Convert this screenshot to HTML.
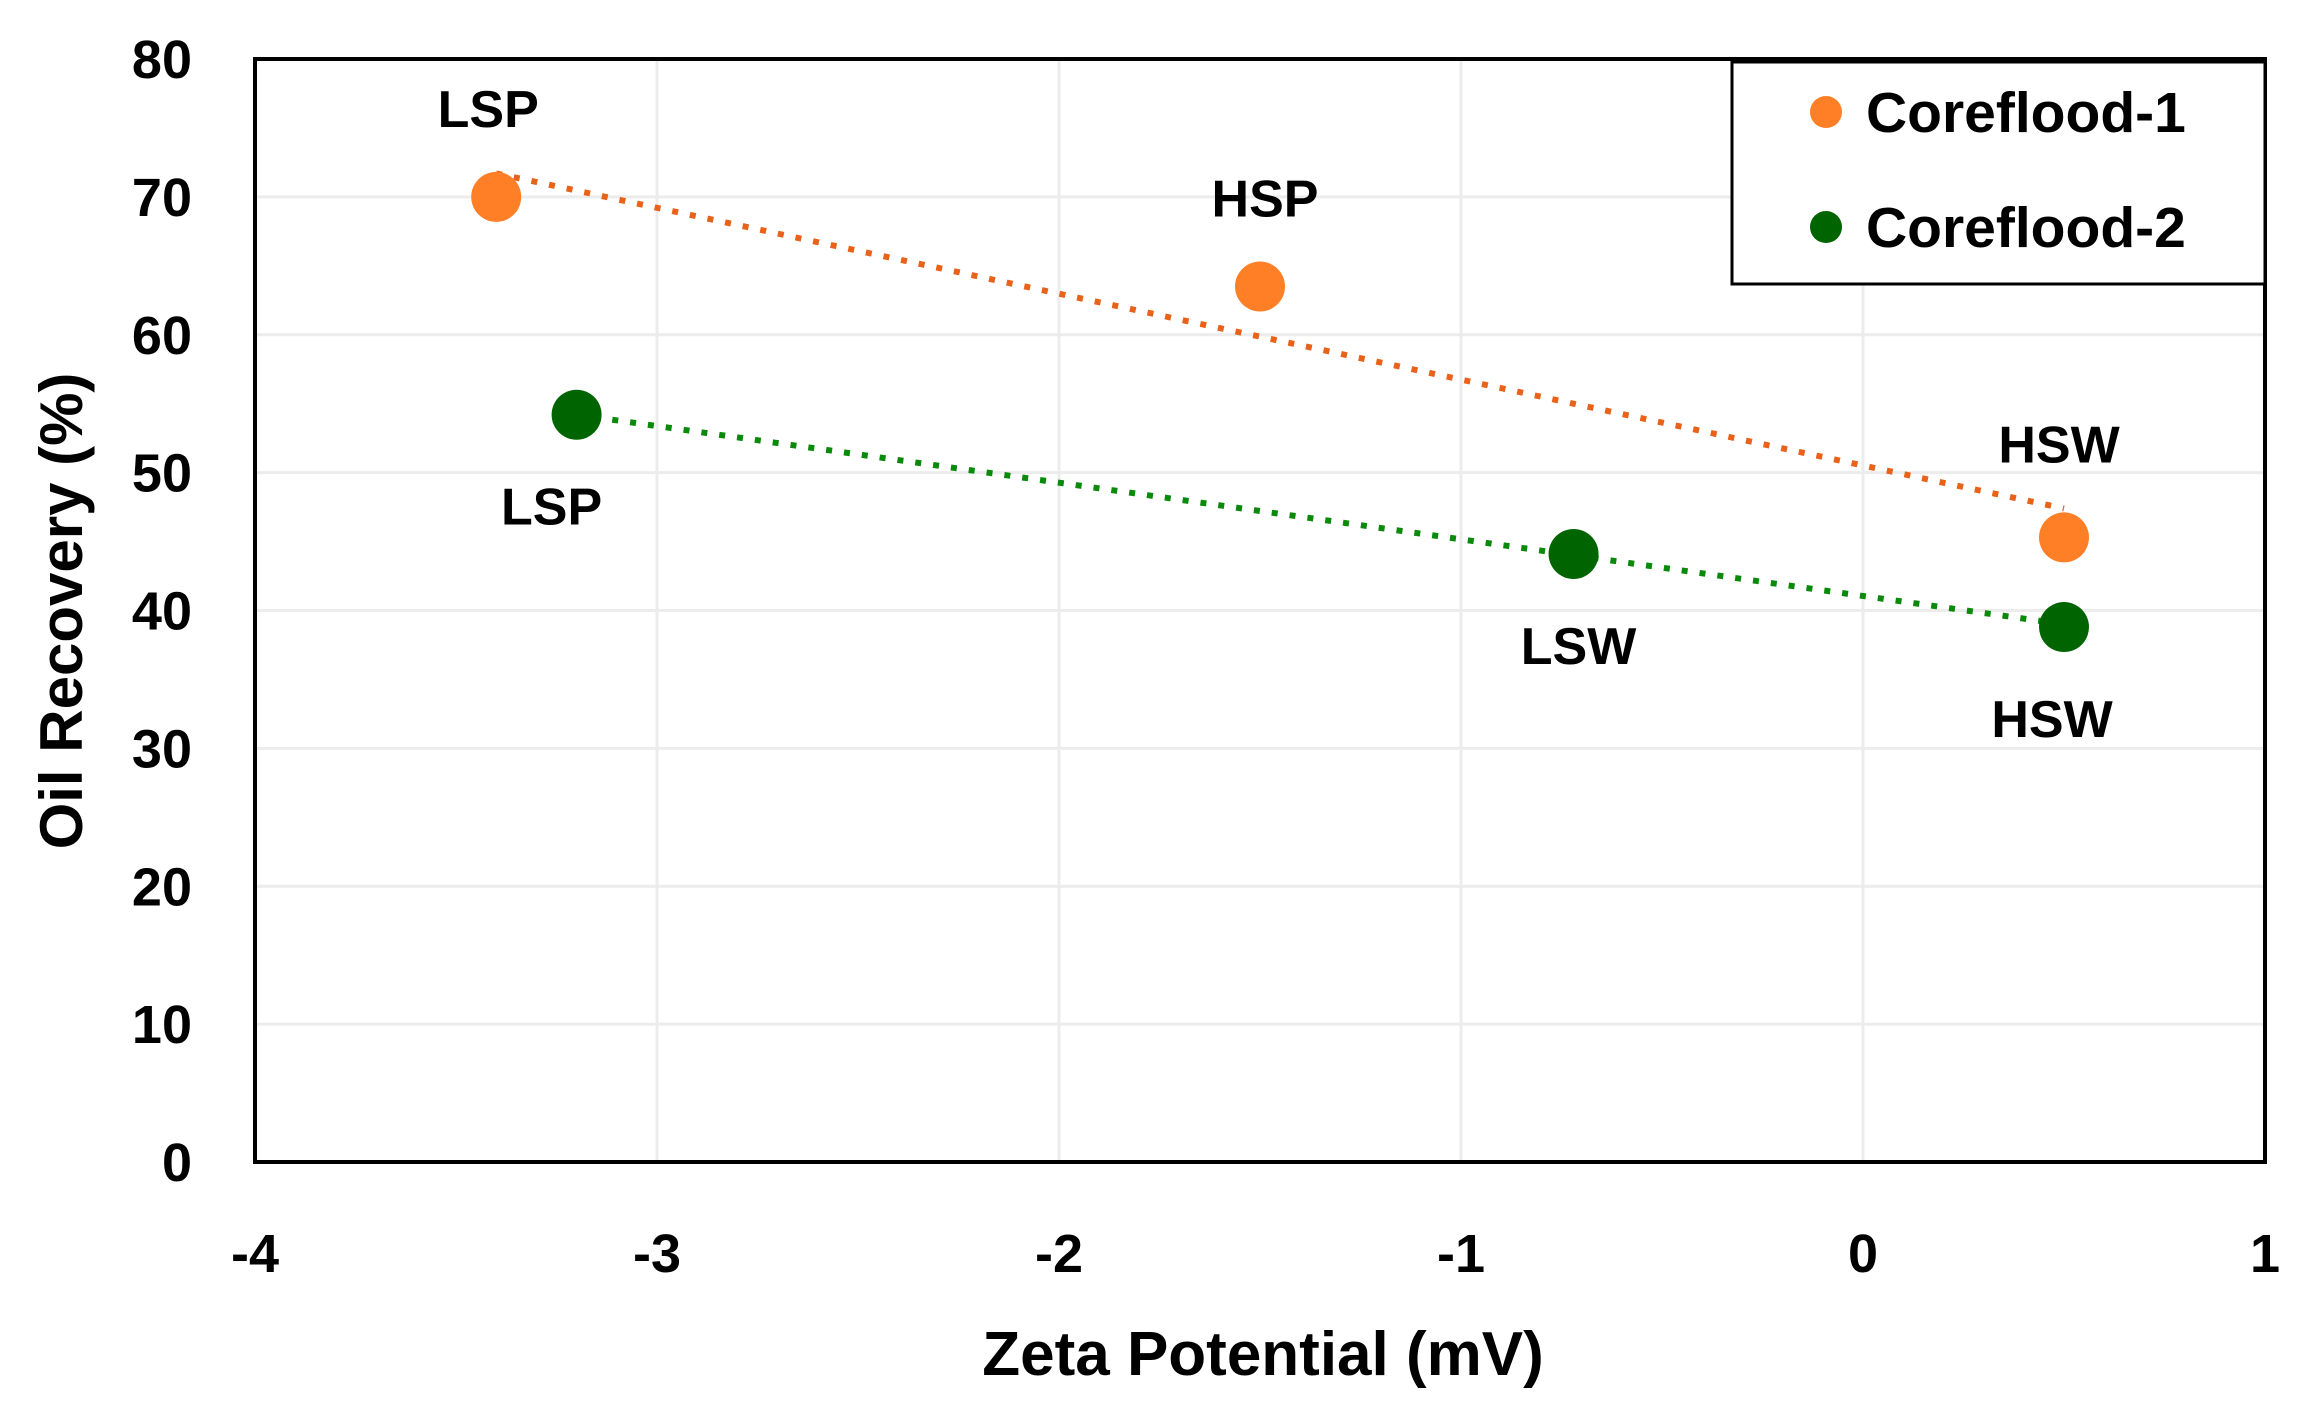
<!DOCTYPE html>
<html><head><meta charset="utf-8"><style>
html,body{margin:0;padding:0;background:#fff}
svg{display:block}
text{font-family:"Liberation Sans",sans-serif;font-weight:bold;fill:#000}
</style></head><body>
<svg id="chart" width="2302" height="1413" viewBox="0 0 2302 1413">
<g id="grid"></g>
<g id="ticks"></g>
<g id="series"></g>
<rect x="255" y="59" width="2010" height="1103" fill="none" stroke="#000" stroke-width="4"/>
<text x="1263" y="1375" font-size="62" text-anchor="middle">Zeta Potential (mV)</text>
<text transform="translate(82,611) rotate(-90)" font-size="60" text-anchor="middle">Oil Recovery (%)</text>
<g>
<rect x="1732" y="62" width="533" height="222" fill="#fff" stroke="#000" stroke-width="3"/>
<circle cx="1826" cy="112" r="16" fill="#FF7F27"/>
<text x="1866" y="132" font-size="57">Coreflood-1</text>
<circle cx="1826" cy="227" r="16" fill="#006400"/>
<text x="1866" y="247" font-size="57">Coreflood-2</text>
</g>
</svg>
<script>
const xTicks = [-4, -3, -2, -1, 0, 1];
const yTicks = [0, 10, 20, 30, 40, 50, 60, 70, 80];
const c1X = [-3.4, -1.5, 0.5];
const c1Y = [70, 63.5, 45.3];
const c1Labels = ["LSP", "HSP", "HSW"];
const c2X = [-3.2, -0.72, 0.5];
const c2Y = [54.2, 44.1, 38.8];
const c2Labels = ["LSP", "LSW", "HSW"];
const c1Trend = [71.7, 47.4];
const c2Trend = [54.2, 39.0];

const L=255,R=2265,T=59,B=1162;
const xs = v => L + (v - (-4)) / 5 * (R - L);
const ys = v => B - v / 80 * (B - T);
const NS="http://www.w3.org/2000/svg";
function mk(tag, attrs, parent){const e=document.createElementNS(NS,tag);for(const k in attrs)e.setAttribute(k,attrs[k]);parent.appendChild(e);return e;}
const grid=document.getElementById('grid'), ticks=document.getElementById('ticks'), series=document.getElementById('series');
yTicks.forEach(v=>{
  const l=mk('line',{x1:L,x2:R,y1:ys(v),y2:ys(v),stroke:'#ececec','stroke-width':3},grid);
  
  
  const t=mk('text',{x:192,y:ys(v)+19,'font-size':54,'text-anchor':'end'},ticks);
  t.textContent=v;
  
  
});
xTicks.forEach(v=>{
  const l=mk('line',{x1:xs(v),x2:xs(v),y1:T,y2:B,stroke:'#ececec','stroke-width':3},grid);
  
  
  const t=mk('text',{x:xs(v),y:1272,'font-size':54,'text-anchor':'middle'},ticks);
  t.textContent=v;
  
  
});
function trend(xArr, tr, color, name){
  const l=mk('line',{x1:xs(xArr[0]),y1:ys(tr[0]),x2:xs(xArr[xArr.length-1]),y2:ys(tr[1]),stroke:color,'stroke-width':6,'stroke-dasharray':'6 12'},series);
  
  
}
trend(c1X,c1Trend,'#E8621A','trendline-coreflood-1');
trend(c2X,c2Trend,'#0A8A0A','trendline-coreflood-2');
const c1Off=[[-8,-70],[5,-70],[-5,-75]];
const c2Off=[[-25,110],[5,110],[-12,110]];
function pts(xA,yA,labs,offs,color,name){
  xA.forEach((x,i)=>{
    const c=mk('circle',{cx:xs(x),cy:ys(yA[i]),r:25,fill:color},series);
    
    
    const t=mk('text',{x:xs(x)+offs[i][0],y:ys(yA[i])+offs[i][1],'font-size':52,'text-anchor':'middle'},series);
    t.textContent=labs[i];
    
    
  });
}
pts(c1X,c1Y,c1Labels,c1Off,'#FF7F27','coreflood-1');
pts(c2X,c2Y,c2Labels,c2Off,'#006400','coreflood-2');
</script>
</body></html>
